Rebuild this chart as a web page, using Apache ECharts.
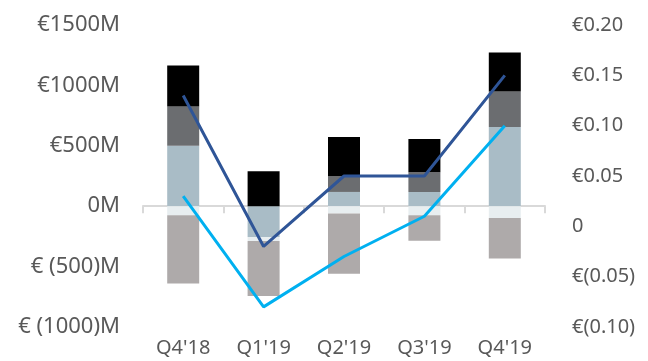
<!DOCTYPE html>
<html>
<head>
<meta charset="utf-8">
<script src="https://cdn.jsdelivr.net/npm/echarts@6/dist/echarts.min.js"></script>
<style>html,body{margin:0;padding:0;background:#fff;}#c{width:648px;height:361px;}</style>
</head>
<body>
<div id="c"></div>
<script>
var categories = ["Q4'18", "Q1'19", "Q2'19", "Q3'19", "Q4'19"];
var lightBlueBar = [500, -254, 118, 118, 655];
var veryLightBar = [-75, -35, -60, -75, -97];
var taupeBar = [-565, -455, -500, -212, -335];
var darkGrayBar = [325, 0, 130, 163, 295];
var blackBar = [340, 289, 325, 275, 322];
var darkBlueLine = [0.13, -0.02, 0.05, 0.05, 0.15];
var lightBlueLine = [0.03, -0.08, -0.03, 0.01, 0.10];
var leftTicks = {"1500": "€1500M", "1000": "€1000M", "500": "€500M", "0": "0M", "-500": "€ (500)M", "-1000": "€ (1000)M"};
var rightTicks = {"0.2": "€0.20", "0.15": "€0.15", "0.1": "€0.10", "0.05": "€0.05", "0": "0", "-0.05": "€(0.05)", "-0.1": "€(0.10)"};

var chart = echarts.init(document.getElementById('c'), null, {renderer: 'canvas'});
function bar(name, data, color) {
  return {name: name, type: 'bar', stack: 'a', barWidth: 32, data: data, itemStyle: {color: color}, xAxisIndex: 0, yAxisIndex: 0};
}
chart.setOption({
  animation: false,
  grid: {left: 143, right: 103, top: 25, bottom: 34},
  xAxis: [
    {type: 'category', data: categories, position: 'bottom', axisLine: {show: false, onZero: false}, axisTick: {show: false},
     axisLabel: {margin: 11, fontFamily: 'Noto Sans', fontSize: 20, color: '#595959'}},
    {type: 'category', data: categories, position: 'bottom', axisLine: {show: true, onZero: true, onZeroAxisIndex: 0, lineStyle: {color: '#d9d9d9', width: 2}},
     axisTick: {show: true, length: 7, lineStyle: {color: '#d9d9d9', width: 2}}, axisLabel: {show: false}}
  ],
  yAxis: [
    {type: 'value', min: -1000, max: 1500, interval: 500, splitLine: {show: false}, axisLine: {show: false}, axisTick: {show: false},
     axisLabel: {margin: 23, fontFamily: 'Noto Sans', fontSize: 22, color: '#595959', padding: [7, 0, 0, 0],
       formatter: function (v) { return leftTicks[String(v)]; }}},
    {type: 'value', min: -0.1, max: 0.2, interval: 0.05, splitLine: {show: false}, axisLine: {show: false}, axisTick: {show: false},
     axisLabel: {margin: 27, fontFamily: 'Noto Sans', fontSize: 20, color: '#595959', padding: [6, 0, 0, 0],
       formatter: function (v) { return rightTicks[String(Math.round(v * 100) / 100)]; }}}
  ],
  series: [
    bar('a', lightBlueBar, '#a9bcc6'),
    bar('b', veryLightBar, '#e8eef0'),
    bar('c', taupeBar, '#aeaaaa'),
    bar('d', darkGrayBar, '#6b6d70'),
    bar('e', blackBar, '#000000'),
    {name: 'l1', type: 'line', yAxisIndex: 1, data: darkBlueLine, symbol: 'none', lineStyle: {color: '#2f5597', width: 3}, z: 5},
    {name: 'l2', type: 'line', yAxisIndex: 1, data: lightBlueLine, symbol: 'none', lineStyle: {color: '#00b0f0', width: 3}, z: 5}
  ]
});
</script>
</body>
</html>
